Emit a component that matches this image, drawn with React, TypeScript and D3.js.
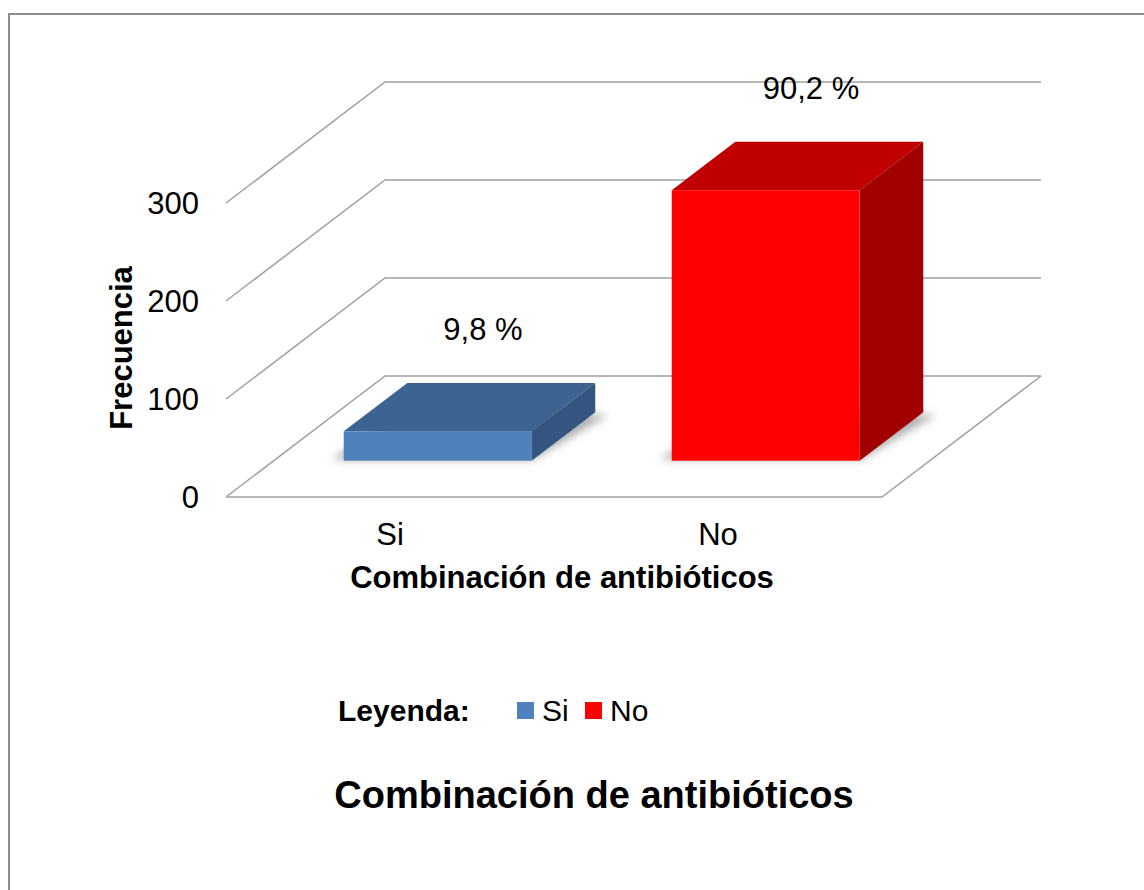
import React, { useEffect, useRef } from 'react';
import * as d3 from 'd3';

const categories = ['Si', 'No'];
const frequencies = [30, 276];
const yTicks = [0, 100, 200, 300];

const fronts = ['#4f81bd', '#ff0000'];
const tops = ['#3d6390', '#c00000'];
const sides = ['#34557f', '#a00000'];

const font = '"Liberation Sans", Arial, sans-serif';

// front plane of the 3d box
const x = d3.scaleBand().domain(categories).range([226, 882]).padding(0);
const y = d3.scaleLinear().domain([0, 300]).range([497, 203]);
// depth offsets (0 = front, 1 = back wall)
const depthX = d3.scaleLinear().domain([0, 1]).range([0, 159]);
const depthY = d3.scaleLinear().domain([0, 1]).range([0, -121]);

const barFrac = 0.573;
const zFront = 0.3;
const zBack = 0.7;

const pt = (px: number, v: number, z: number): [number, number] => [px + depthX(z), y(v) + depthY(z)];

const pctFormat = d3.format('.1f');

function App() {
	const ref = useRef<SVGSVGElement>(null);

	useEffect(() => {
		const svg = d3.select(ref.current);
		svg.selectAll('*').remove();

		const defs = svg.append('defs');
		defs.append('filter')
			.attr('id', 'shadow')
			.attr('x', '-20%').attr('y', '-50%').attr('width', '140%').attr('height', '200%')
			.append('feGaussianBlur')
			.attr('stdDeviation', 4);

		// outer border
		svg.append('rect')
			.attr('x', 9).attr('y', 14)
			.attr('width', 1300).attr('height', 1000)
			.attr('fill', 'none')
			.attr('stroke', '#8c8c8c')
			.attr('stroke-width', 2);

		const grid = svg.append('g')
			.attr('stroke', '#a0a0a0')
			.attr('stroke-width', 1.5)
			.attr('fill', 'none');

		const x0 = x.range()[0];
		const x1 = x.range()[1];

		// back wall lines + left wall diagonals
		yTicks.forEach((t) => {
			const a = pt(x0, t, 0);
			const b = pt(x0, t, 1);
			const c = pt(x1, t, 1);
			grid.append('path').attr('d', d3.line()([a, b, c]));
		});
		// floor front and right edges
		grid.append('path').attr('d', d3.line()([pt(x0, 0, 0), pt(x1, 0, 0), pt(x1, 0, 1)]));

		// tick labels
		svg.append('g')
			.selectAll('text')
			.data(yTicks)
			.enter()
			.append('text')
			.attr('x', 199)
			.attr('y', (d) => y(d) + 11)
			.attr('text-anchor', 'end')
			.style('font', `31px ${font}`)
			.text((d) => d);

		const total = d3.sum(frequencies);
		const bw = x.bandwidth();
		const w = bw * barFrac;

		const bars = svg.append('g')
			.selectAll('g')
			.data(categories)
			.enter()
			.append('g');

		bars.each(function (c, i) {
			const g = d3.select(this);
			const v = frequencies[i];
			const l = (x(c) as number) + (bw - w) / 2;
			const r = l + w;

			// soft shadow around base
			g.append('path')
				.attr('d', d3.line()([pt(l - 14, 0, zFront + 0.01), pt(r, 0, zFront + 0.01), pt(r + 16, 0, zBack - 0.02), pt(l, 0, zBack)]) + 'Z')
				.attr('fill', '#777')
				.attr('opacity', 0.6)
				.attr('filter', 'url(#shadow)');

			// top face
			g.append('path')
				.attr('d', d3.line()([pt(l, v, zFront), pt(r, v, zFront), pt(r, v, zBack), pt(l, v, zBack)]) + 'Z')
				.attr('fill', tops[i]);
			// side face
			g.append('path')
				.attr('d', d3.line()([pt(r, 0, zFront), pt(r, v, zFront), pt(r, v, zBack), pt(r, 0, zBack)]) + 'Z')
				.attr('fill', sides[i]);
			// front face
			const [fx, fy] = pt(l, v, zFront);
			const [, fb] = pt(l, 0, zFront);
			g.append('rect')
				.attr('x', fx).attr('y', fy)
				.attr('width', w).attr('height', fb - fy)
				.attr('fill', fronts[i]);

			// percentage label
			g.append('text')
				.attr('x', (x(c) as number) + bw / 2 + 93)
				.attr('y', y(v) - 127.5)
				.attr('text-anchor', 'middle')
				.style('font', `31px ${font}`)
				.text(pctFormat((v / total) * 100).replace('.', ',') + ' %');
		});

		// category labels
		svg.append('g')
			.selectAll('text')
			.data(categories)
			.enter()
			.append('text')
			.attr('x', (d) => (x(d) as number) + bw / 2)
			.attr('y', 545)
			.attr('text-anchor', 'middle')
			.style('font', `31px ${font}`)
			.text((d) => d);

		// axis titles
		svg.append('text')
			.attr('x', 562).attr('y', 588)
			.attr('text-anchor', 'middle')
			.style('font', `bold 31px ${font}`)
			.text('Combinación de antibióticos');

		svg.append('text')
			.attr('transform', 'translate(132, 348) rotate(-90)')
			.attr('text-anchor', 'middle')
			.style('font', `bold 31px ${font}`)
			.text('Frecuencia');

		// legend
		const legend = svg.append('g');
		legend.append('text')
			.attr('x', 338).attr('y', 721)
			.style('font', `bold 30px ${font}`)
			.text('Leyenda:');
		const items = legend.selectAll('g.item')
			.data(categories)
			.enter()
			.append('g')
			.attr('class', 'item')
			.attr('transform', (d, i) => `translate(${517 + i * 68}, 702)`);
		items.append('rect')
			.attr('width', 17).attr('height', 17)
			.attr('fill', (d, i) => fronts[i]);
		items.append('text')
			.attr('x', 25).attr('y', 19)
			.style('font', `30px ${font}`)
			.text((d) => d);

		// chart title
		svg.append('text')
			.attr('x', 594).attr('y', 808)
			.attr('text-anchor', 'middle')
			.style('font', `bold 38px ${font}`)
			.text('Combinación de antibióticos');
	}, []);

	return (
		<svg ref={ref} width={1144} height={890}
			style={{ position: 'absolute', left: 0, top: 0, background: '#fff' }} />
	);
}

export default App;
